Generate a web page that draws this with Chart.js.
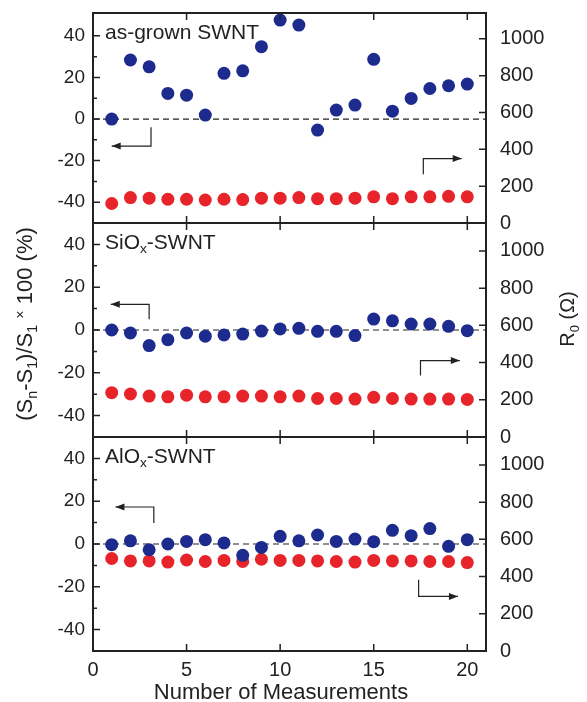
<!DOCTYPE html>
<html>
<head>
<meta charset="utf-8">
<script src="https://cdn.jsdelivr.net/npm/chart.js@4.4.1/dist/chart.umd.min.js"></script>
<style>
  html, body { margin: 0; padding: 0; background: #fff; overflow: hidden; }
  #wrap { position: relative; width: 587px; height: 702px; overflow: hidden; }
  #wrap canvas { position: absolute; left: 0; top: 0; }
  #wrap #p1 { top: -20px; }
</style>
</head>
<body>
<div id="wrap">
  <canvas id="p1" width="587" height="722"></canvas>
  <canvas id="p2" width="587" height="702"></canvas>
  <canvas id="p3" width="587" height="702"></canvas>
</div>
<script>
// measurement index (x)
const measurements = [1, 2, 3, 4, 5, 6, 7, 8, 9, 10, 11, 12, 13, 14, 15, 16, 17, 18, 19, 20];

// (Sn-S1)/S1 x 100 (%) -- left axis
const asGrownS = [0, 28.4, 25.1, 12.3, 11.5, 1.9, 22, 23.2, 34.8, 47.6, 45.2, -5.3, 4.3, 6.7, 28.7, 3.8, 9.9, 14.7, 16, 16.8];
const sioxS = [0, -1.4, -7.3, -4.5, -1.4, -2.9, -2.3, -1.9, -0.5, 0.5, 0.8, -0.6, -0.6, -2.6, 5.1, 4.3, 2.8, 2.8, 1.7, -0.3];
const aloxS = [-0.3, 1.5, -2.7, 0, 1.2, 2, 0.5, -5.3, -1.6, 3.6, 1.5, 4.2, 1.2, 2.3, 1.1, 6.4, 3.9, 7.2, -1.1, 2];

// R0 (ohm) -- right axis
const asGrownR = [106, 138, 135, 129, 129, 125, 129, 127, 135, 135, 138, 132, 132, 135, 142, 132, 142, 142, 145, 142];
const sioxR = [238, 231, 220, 216, 225, 216, 216, 220, 220, 216, 220, 207, 207, 204, 213, 207, 204, 204, 204, 202];
const aloxR = [497, 484, 484, 478, 489, 481, 487, 481, 493, 487, 487, 484, 481, 478, 487, 484, 484, 481, 481, 475];

// ticks
const xTicks = [0, 5, 10, 15, 20];
const leftTicks = [-40, -20, 0, 20, 40];
const leftMinor = [-30, -10, 10, 30];
const rightTicks = [0, 200, 400, 600, 800, 1000];

const FONT = "'Liberation Sans', Arial, Helvetica, sans-serif";
const INK = '#222';
const BLUE = '#1d2b8e';
const RED = '#e8242b';

// draw text with simple sub/superscripts, centered (or left aligned) at x,y
function drawRich(ctx, parts, x, y, size, vertical, alignLeft) {
  ctx.save();
  ctx.translate(x, y);
  if (vertical) ctx.rotate(-Math.PI / 2);
  ctx.fillStyle = INK;
  ctx.textAlign = 'left';
  ctx.textBaseline = 'alphabetic';
  const fontOf = p => (p.sub || p.sup ? size * 0.65 : size) + 'px ' + FONT;
  let w = 0;
  parts.forEach(p => { ctx.font = fontOf(p); w += ctx.measureText(p.t).width; });
  let cx = alignLeft ? 0 : -w / 2;
  const base = size * 0.36;
  parts.forEach(p => {
    ctx.font = fontOf(p);
    let dy = 0;
    if (p.sub) dy = size * 0.22;
    if (p.sup) dy = -size * 0.3;
    ctx.fillText(p.t, cx, base + dy);
    cx += ctx.measureText(p.t).width;
  });
  ctx.restore();
}

const framePlugin = {
  id: 'frame',
  afterDatasetsDraw(chart, args, opts) {
    const {ctx, chartArea: a, scales} = chart;
    const x = scales.x, yl = scales.y, yr = scales.y2;
    ctx.save();
    ctx.strokeStyle = INK;

    // inward tick marks
    ctx.lineWidth = 1.5;
    ctx.beginPath();
    xTicks.forEach(v => {
      const px = x.getPixelForValue(v);
      ctx.moveTo(px, a.bottom); ctx.lineTo(px, a.bottom - 7);
      ctx.moveTo(px, a.top); ctx.lineTo(px, a.top + 7);
    });
    leftTicks.forEach(v => {
      const py = yl.getPixelForValue(v);
      ctx.moveTo(a.left, py); ctx.lineTo(a.left + 7, py);
    });
    leftMinor.forEach(v => {
      const py = yl.getPixelForValue(v);
      ctx.moveTo(a.left, py); ctx.lineTo(a.left + 4, py);
    });
    rightTicks.forEach(v => {
      const py = yr.getPixelForValue(v);
      ctx.moveTo(a.right, py); ctx.lineTo(a.right - 7, py);
    });
    ctx.stroke();

    // axis indicator arrows (data coordinates on left axis)
    ctx.lineWidth = 1.2;
    ctx.fillStyle = INK;
    (opts.arrows || []).forEach(path => {
      const pts = path.map(p => [x.getPixelForValue(p[0]), yl.getPixelForValue(p[1])]);
      ctx.beginPath();
      ctx.moveTo(pts[0][0], pts[0][1]);
      pts.slice(1).forEach(p => ctx.lineTo(p[0], p[1]));
      ctx.stroke();
      const [ex, ey] = pts[pts.length - 1];
      const [sx, sy] = pts[pts.length - 2];
      const ang = Math.atan2(ey - sy, ex - sx);
      ctx.save();
      ctx.translate(ex, ey);
      ctx.rotate(ang);
      ctx.beginPath();
      ctx.moveTo(0, 0); ctx.lineTo(-9, -3.5); ctx.lineTo(-9, 3.5);
      ctx.closePath();
      ctx.fill();
      ctx.restore();
    });

    // frame
    ctx.lineWidth = 2;
    ctx.strokeRect(a.left, a.top, a.right - a.left, a.bottom - a.top);
    ctx.restore();

    if (opts.label) drawRich(ctx, opts.label, a.left + 12, a.top + 18, 21, false, true);
    (opts.titles || []).forEach(t => drawRich(ctx, t.parts, t.x, t.y, t.size, !!t.vertical, false));
  }
};

function makePanel(id, sVals, rVals, cfg) {
  const pts = vals => measurements.map((m, i) => ({x: m, y: vals[i]}));
  return new Chart(document.getElementById(id), {
    type: 'scatter',
    data: {
      datasets: [
        {data: pts(sVals), yAxisID: 'y', pointRadius: 6.5, pointBackgroundColor: BLUE, pointBorderWidth: 0},
        {data: pts(rVals), yAxisID: 'y2', pointRadius: 6.5, pointBackgroundColor: RED, pointBorderWidth: 0},
        {data: [{x: 0, y: 0}, {x: 21, y: 0}], yAxisID: 'y', showLine: true, pointRadius: 0,
         borderColor: INK, borderWidth: 1.2, borderDash: [6, 4]}
      ]
    },
    options: {
      responsive: false,
      animation: false,
      events: [],
      layout: {padding: {top: cfg.top, bottom: cfg.bottom, left: 0, right: 0}},
      plugins: {
        legend: {display: false},
        tooltip: {enabled: false},
        frame: {arrows: cfg.arrows, label: cfg.label, titles: cfg.titles}
      },
      scales: {
        x: {
          type: 'linear', min: 0, max: 21,
          display: cfg.showX,
          afterBuildTicks: s => { s.ticks = xTicks.map(v => ({value: v})); },
          afterFit: s => { if (cfg.showX) s.height = 51; },
          grid: {display: false, drawTicks: false},
          border: {display: false},
          ticks: {color: INK, font: {family: FONT, size: 20}, padding: 7, maxRotation: 0}
        },
        y: {
          type: 'linear', position: 'left', min: cfg.sMin, max: cfg.sMax,
          afterBuildTicks: s => { s.ticks = leftTicks.map(v => ({value: v})); },
          afterFit: s => { s.width = 93; },
          grid: {display: false, drawTicks: false},
          border: {display: false},
          ticks: {color: INK, font: {family: FONT, size: 19}, padding: 8}
        },
        y2: {
          type: 'linear', position: 'right', min: 0, max: cfg.rMax,
          afterBuildTicks: s => { s.ticks = rightTicks.map(v => ({value: v})); },
          afterFit: s => { s.width = 101; },
          grid: {display: false, drawTicks: false},
          border: {display: false},
          ticks: {color: INK, font: {family: FONT, size: 20}, padding: 14, callback: v => String(v)}
        }
      }
    },
    plugins: [framePlugin]
  });
}

// canvas p1 is shifted up 20px so its top padding leaves room for label overflow
makePanel('p1', asGrownS, asGrownR, {
  top: 33, bottom: 479, sMin: -50, sMax: 51, rMax: 1140, showX: false,
  label: [{t: 'as-grown SWNT'}],
  arrows: [
    [[3.1, -4], [3.1, -13], [1.0, -13]],
    [[17.65, -26.5], [17.65, -19], [19.7, -19]]
  ]
});

makePanel('p2', sioxS, sioxR, {
  top: 223, bottom: 265, sMin: -50, sMax: 50, rMax: 1150, showX: false,
  label: [{t: 'SiO'}, {t: 'x', sub: true}, {t: '-SWNT'}],
  arrows: [
    [[3.0, 5], [3.0, 12], [0.95, 12]],
    [[17.5, -21.3], [17.5, -14.3], [19.6, -14.3]]
  ],
  titles: [
    {x: 24, y: 324, size: 22, vertical: true, parts: [{t: '(S'}, {t: 'n', sub: true}, {t: '-S'}, {t: '1', sub: true},
      {t: ')/S'}, {t: '1', sub: true}, {t: ' '}, {t: '×', sup: true}, {t: ' 100 (%)'}]},
    {x: 567, y: 319, size: 20, vertical: true, parts: [{t: 'R'}, {t: '0', sub: true}, {t: ' (Ω)'}]}
  ]
});

makePanel('p3', aloxS, aloxR, {
  top: 437, bottom: 0, sMin: -50, sMax: 50, rMax: 1150, showX: true,
  label: [{t: 'AlO'}, {t: 'x', sub: true}, {t: '-SWNT'}],
  arrows: [
    [[3.25, 9.8], [3.25, 17.3], [1.2, 17.3]],
    [[17.4, -16.7], [17.4, -24.5], [19.5, -24.5]]
  ],
  titles: [
    {x: 281, y: 691, size: 22, parts: [{t: 'Number of Measurements'}]}
  ]
});
</script>
</body>
</html>
